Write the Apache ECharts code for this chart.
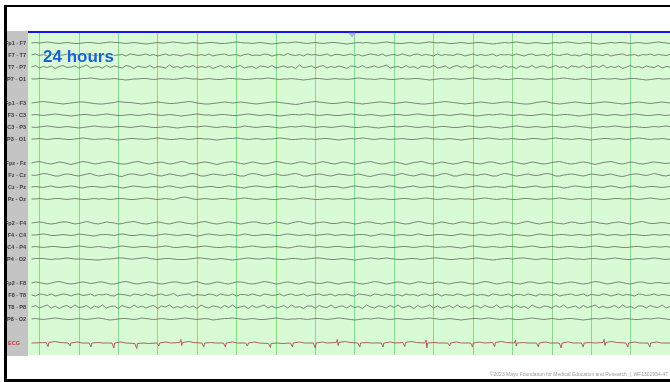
<!DOCTYPE html>
<html><head><meta charset="utf-8">
<script src="https://cdn.jsdelivr.net/npm/echarts@6/dist/echarts.min.js"></script>
<style>html,body{margin:0;padding:0;background:#fff;overflow:hidden}#c{width:670px;height:382px}</style>
</head><body><div id="c"></div>
<script>
// channel labels, one per vertical slot ('' = gap between montage groups)
const channelLabels = ['Fp1 - F7','F7 - T7','T7 - P7','P7 - O1','',
  'Fp1 - F3','F3 - C3','C3 - P3','P3 - O1','',
  'Fpz - Fz','Fz - Cz','Cz - Pz','Pz - Oz','',
  'Fp2 - F4','F4 - C4','C4 - P4','P4 - O2','',
  'Fp2 - F8','F8 - T8','T8 - P8','P8 - O2','',
  'ECG'];
// time (s) of first sample and sample step for the EEG traces
const sampleStart = 0.8, sampleStep = 0.1;
// EEG deflections, estimated, in half-pixel units (positive = upward)
const fp1f7 = [0,1,0,1,2,1,0,-1,0,1,0,-1,-1,0,1,1,0,-1,0,1, 2,1,1,0,-1,0,1,0,-1,-2,-1,0,1,0,0,1,2,1,0,-1, 0,1,0,-1,0,1,1,0,-1,-1,0,1,2,1,0,0,-1,0,1,0, -1,-2,-1,0,1,0,1,2,1,0,-1,0,1,0,-1,0,1,1,0,-1, -2,-1,0,1,0,1,0,-1,0,1,2,1,0,-1,-1,0,1,0,-1,0, 1,2,1,0,1,0,-1,-1,0,1,0,-1,0,1,1,0,-1,-2,-1,0, 1,0,1,2,1,0,-1,0,1,0,-1,-1,0,1,0,1,2,1,0,-1, 0,1,0,-1,-2,-1,0,1,0,1,1,0,-1,0,1,0,-1,0,1,2, 1,0,-1,0];
const f7t7 = [0,2,-1,1,-2,1,2,-1,0,2,-2,1,0,-1,2,1,-2,0,1,-1, 2,-1,0,1,-2,2,1,-1,0,2,-1,1,-2,0,2,-1,1,0,-2,1, 2,0,-1,1,-1,2,-2,0,1,2,-1,0,1,-2,1,2,-1,0,-1,2, 1,-2,0,1,-1,3,0,-1,1,-2,2,0,1,-1,0,2,-2,1,1,-1, 0,2,-1,1,-2,0,2,1,-1,2,-2,0,1,-1,2,0,-2,1,2,-1, 1,0,-2,2,-1,1,0,-1,2,1,-2,0,2,-1,1,-1,0,2,-2,1, 0,1,-1,2,0,-2,1,2,-1,0,1,-2,2,0,-1,1,2,-1,0,-2, 1,2,-1,1,0,-1,2,-2,0,1,2,-1,0,1,-2,1,0,2,-1,1, 0,-1,1,0];
const t7p7 = [0,3,-2,1,-1,2,-3,1,3,-1,0,2,-2,1,4,-2,0,1,-2,3, -1,2,0,-2,3,1,-3,2,0,-1,3,-2,1,0,-2,4,-1,1,-2,2, 0,3,-2,1,-1,2,-3,0,3,-1,2,-2,1,3,-2,0,1,-3,2,1, -1,3,-2,0,2,-1,1,-3,4,-1,0,2,-2,1,3,-2,1,-1,2,0, -3,2,1,-1,3,-2,0,2,-1,1,4,-2,0,1,-2,3,-1,1,-3,2, 1,-1,3,-2,0,2,-3,1,3,-1,2,-2,0,4,-1,1,-2,2,0,-2, 3,-1,1,-3,2,0,-1,3,-2,1,2,-2,0,3,-1,1,-3,2,1,-1, 3,-2,0,2,-1,4,-2,1,-1,2,-3,0,3,-1,1,-2,2,0,-1,3, -2,1,0,-1];
const p7o1 = [0,0,1,1,0,-1,0,0,1,0,-1,-1,0,1,1,2,1,0,-1,0, 0,1,0,-1,-2,-1,0,0,1,1,0,-1,0,1,0,0,-1,0,1,2, 1,0,0,-1,0,1,0,-1,-1,0,1,1,0,0,-1,-1,0,1,0,1, 2,1,0,-1,0,0,1,0,-1,-2,-1,0,1,1,0,-1,0,1,0,0, -1,0,1,2,1,0,0,-1,0,1,0,-1,-1,0,1,0,0,1,1,0, -1,-2,-1,0,1,0,0,1,0,-1,0,1,2,1,0,-1,0,0,1,0, -1,-1,0,1,1,0,0,-1,0,1,0,-1,0,0,1,2,1,0,-1,0, 1,0,-1,-1,0,1,0,0,1,0,-1,0,1,1,0,-1,-2,-1,0,1, 0,0,1,0];
const fp1f3 = [0,1,2,3,2,1,0,-1,-2,-1,0,1,2,2,1,0,-1,-2,-2,-1, 0,1,3,2,1,1,0,-1,-2,-1,0,1,2,1,0,-1,-1,0,1,2, 3,2,0,-1,-2,-2,-1,0,1,2,1,0,1,2,1,0,-1,-2,-1,0, 1,2,2,1,0,-1,-2,-3,-2,0,1,2,3,2,1,0,-1,-1,0,1, 2,1,0,-1,-2,-1,0,1,2,2,1,0,-1,0,1,2,1,0,-1,-2, -2,-1,0,1,2,3,2,1,0,-1,-2,-1,0,1,2,1,0,-1,0,1, 2,2,1,0,-1,-2,-2,-1,1,2,3,2,0,-1,-2,-1,0,1,2,1, 0,-1,-1,0,1,2,2,1,0,-1,-2,-1,0,1,2,1,0,-1,0,1, 2,1,0,-1];
const f3c3 = [0,1,0,-1,0,1,2,1,0,-1,-2,-1,0,1,1,0,-1,0,1,2, 1,0,-1,-1,0,1,0,-1,0,1,2,1,0,-1,0,1,0,-1,-2,-1, 0,1,2,1,0,0,-1,0,1,1,0,-1,-1,0,1,2,1,0,-1,0, 1,0,-1,-2,-1,0,1,1,0,1,2,1,0,-1,0,1,0,-1,-1,0, 1,2,1,0,-1,0,1,0,-1,-2,-1,0,1,1,0,-1,0,1,2,1, 0,-1,-1,0,1,0,-1,0,1,2,1,0,-1,-2,-1,0,1,0,1,2, 1,0,-1,0,1,0,-1,-1,0,1,2,1,0,-1,0,1,1,0,-1,-2, -1,0,1,2,1,0,-1,0,1,0,-1,0,1,2,1,0,-1,-1,0,1, 0,-1,0,1];
const c3p3 = [0,-1,0,1,2,1,0,-1,0,1,0,-1,-2,-1,0,1,2,1,0,0, -1,0,1,1,0,-1,0,1,2,1,0,-1,-1,0,1,0,-1,-2,-1,0, 1,1,0,1,2,1,0,-1,0,1,0,-1,-1,0,2,1,0,-1,0,1, 1,0,-1,-2,-1,0,1,0,1,2,1,0,-1,0,1,0,-1,0,1,2, 1,0,-1,-1,0,1,0,-1,-2,-1,0,1,1,0,1,2,1,0,-1,0, 1,0,-1,0,1,1,0,-1,-1,0,1,2,1,0,-1,0,1,0,-1,-2, -1,0,1,2,1,0,-1,0,1,0,-1,0,1,1,0,-1,0,1,2,1, 0,-1,-2,-1,0,1,0,1,2,1,0,-1,0,1,0,-1,-1,0,1,0, 1,2,1,0];
const p3o1 = [0,0,1,0,-1,0,1,1,0,-1,-1,0,1,2,1,0,-1,0,0,1, 0,-1,-2,-1,0,1,1,0,0,-1,0,1,2,1,0,-1,-1,0,1,0, -1,0,1,1,0,0,-1,-2,-1,0,1,1,2,1,0,-1,0,1,0,-1, 0,0,1,2,1,0,-1,-1,0,1,0,0,-1,0,1,1,0,-1,-2,-1, 0,1,0,1,2,1,0,-1,0,1,0,-1,0,0,1,0,-1,-1,0,1, 2,1,0,0,-1,0,1,0,-1,-2,-1,0,1,1,0,1,2,1,0,-1, 0,0,1,0,-1,-1,0,1,1,0,-1,0,1,2,1,0,0,-1,0,1, 0,-1,-2,-1,0,1,1,0,0,1,0,-1,0,1,2,1,0,-1,0,0, 1,0,-1,0];
const fpzfz = [0,2,3,1,-1,-2,0,2,1,-1,-3,-1,1,3,2,0,-2,-1,1,2, 3,1,-1,-2,-2,0,2,3,1,-1,-2,0,1,2,0,-2,-1,1,3,2, -1,-2,-1,1,2,1,-1,-3,-1,1,2,3,1,-1,-2,0,2,1,-1,-2, -1,1,3,2,0,-1,-2,0,2,2,0,-2,-1,1,3,1,-1,-2,0,2, 1,-1,-2,-1,1,2,3,1,-1,-2,-1,1,2,1,-1,-3,-1,1,2,3, 1,-1,-2,0,2,1,-1,-2,-1,1,3,2,0,-1,-2,0,2,2,0,-2, -1,1,3,1,-1,-2,0,2,1,-1,-2,-1,1,2,3,1,-1,-2,-1,1, 2,1,-1,-3,-1,1,2,3,1,-1,-2,0,2,1,-1,-2,-1,1,2,1, 0,-1,0,1];
const fzcz = [0,-1,1,3,2,0,-2,-2,1,2,1,-1,-2,0,2,3,0,-2,-1,1, 2,1,-2,-3,0,2,2,0,-1,1,3,1,-1,-2,0,2,1,-1,-2,-1, 2,3,1,-2,-2,0,2,1,0,-1,1,2,0,-2,-2,1,3,2,0,-2, -1,1,2,0,-1,0,2,3,1,-2,-2,0,1,2,1,-1,-2,0,2,1, 0,-1,1,2,0,-2,-3,-1,1,2,2,0,-1,1,3,1,-1,-2,0,2, 1,-1,-2,-1,2,3,1,-2,-2,0,2,1,0,-1,1,2,0,-2,-2,1, 3,2,0,-2,-1,1,2,0,-1,0,2,3,1,-2,-2,0,1,2,1,-1, -2,0,2,1,0,-1,1,2,0,-2,-3,-1,1,2,2,0,-1,1,3,1, -1,-2,0,2];
const czpz = [0,1,0,-1,1,2,0,-1,0,1,2,1,-1,-2,0,1,1,0,-1,0, 2,1,0,-2,-1,1,2,1,0,-1,0,1,0,-1,1,2,1,-1,-2,0, 1,2,0,-1,0,1,1,-1,-1,1,2,1,0,-1,-2,0,1,2,1,0, -1,0,1,0,-1,1,2,1,-1,-1,0,1,2,0,-1,0,1,1,0,-2, -1,1,2,1,0,-1,0,1,0,-1,1,2,1,-1,-2,0,1,2,0,-1, 0,1,1,-1,-1,1,2,1,0,-1,-2,0,1,2,1,0,-1,0,1,0, -1,1,2,1,-1,-1,0,1,2,0,-1,0,1,1,0,-2,-1,1,2,1, 0,-1,0,1,0,-1,1,2,1,-1,-2,0,1,2,0,-1,0,1,1,0, -1,0,1,0];
const pzoz = [0,0,1,0,-1,0,1,1,0,-1,0,1,0,-1,-1,0,1,0,1,0, -1,0,1,1,0,-1,-1,0,1,2,1,0,-1,0,1,0,-1,1,3,4, 2,0,-1,0,1,0,-1,0,1,1,0,-1,0,1,2,1,0,-1,0,1, 0,-1,-1,0,1,0,-1,0,1,2,1,0,-1,-1,0,1,0,0,1,0, -1,0,1,2,1,0,-1,0,0,1,0,-1,-1,0,1,1,0,-1,0,1, 2,1,0,-1,0,1,0,-1,0,1,0,0,-1,0,1,2,1,0,-1,0, 1,0,-1,-1,0,1,1,0,-1,0,1,0,0,1,2,1,0,-1,0,1, 0,-1,0,1,0,-1,-1,0,1,1,0,0,1,0,-1,0,1,2,1,0, -1,0,1,0];
const fp2f4 = [0,1,2,1,-1,-2,-1,1,2,2,0,-2,-1,1,3,1,-1,-2,0,2, 1,0,-2,-1,1,2,3,1,-1,-2,-1,1,2,1,-1,-2,0,2,2,0, -1,-2,0,2,3,1,-1,-2,-1,1,2,1,0,-2,-1,1,2,2,0,-1, -2,0,2,1,-1,-2,0,2,3,1,-1,-2,0,1,2,1,-1,-1,0,2, 1,0,-2,-1,1,2,2,0,-1,-2,0,1,2,1,-1,-2,-1,1,3,2, 0,-1,-2,0,2,1,-1,-2,0,2,2,0,-1,0,2,1,-1,-2,-1,1, 2,1,-1,-2,0,2,3,1,-1,-2,0,1,2,0,-1,-2,0,2,1,-1, -1,1,2,2,0,-1,-2,0,1,2,1,-1,-2,0,2,3,1,-1,-1,0, 1,0,-1,0];
const f4c4 = [0,0,1,2,1,-1,-1,0,1,0,-1,0,2,1,0,-1,-2,0,1,1, 0,-1,1,2,1,-1,-1,0,1,0,-1,-2,0,1,2,1,0,-1,0,1, 1,-1,-2,-1,1,2,1,0,-1,0,1,0,-1,0,2,1,-1,-1,0,1, 1,0,-1,-1,1,2,1,0,-1,0,1,0,-1,0,1,2,1,-1,0,1, 0,-1,0,1,1,0,-2,-1,1,2,1,0,-1,0,1,0,-1,0,2,1, -1,-1,0,1,1,0,-1,-1,1,2,1,0,-1,0,1,0,-1,0,1,2, 1,-1,0,1,0,-1,-2,-1,1,2,1,0,-1,0,1,1,0,-1,0,1, 0,-1,0,1,2,1,-1,0,1,0,-1,0,1,1,0,-1,-1,0,1,0, 0,1,0,-1];
const c4p4 = [0,1,0,-1,0,1,1,0,-1,-1,0,1,2,1,0,-1,0,1,0,-1, -2,-1,1,2,1,0,-1,0,1,1,0,-1,0,1,2,1,-1,-1,0,1, 0,-1,0,1,2,1,0,-1,-1,0,1,0,0,-1,0,1,2,1,0,-1, 0,0,1,0,-1,-2,-1,1,2,1,0,-1,0,1,0,-1,0,1,1,0, -1,-1,0,1,2,1,0,-1,0,1,0,-1,-1,0,1,1,0,-1,0,1, 2,1,0,-1,0,0,1,0,-1,-2,-1,1,2,1,0,-1,0,1,0,-1, 0,1,1,0,-1,0,1,2,1,-1,-1,0,1,0,-1,0,1,1,0,-1, -1,0,1,2,1,0,-1,0,1,0,-1,-1,0,1,1,0,-1,0,1,0, 0,1,0,0];
const p4o2 = [0,1,1,1,0,-1,0,0,1,2,1,0,0,0,-1,-1,-2,-2,-1,0, 0,1,2,2,1,0,0,1,2,3,1,0,-1,0,1,1,0,-1,-1,-1, 0,1,2,2,1,0,-1,0,1,0,-1,-2,-1,0,1,2,1,0,0,1, 2,1,0,-1,-1,0,1,1,0,-1,0,1,2,2,1,0,-1,-1,0,1, 0,-1,-2,-1,0,1,2,1,0,1,2,1,0,-1,-1,0,1,1,0,-1, 0,1,2,2,1,0,-1,-1,0,1,0,0,1,2,1,0,-1,-2,-1,0, 1,1,0,1,2,2,1,0,-1,0,1,0,-1,-1,0,1,2,1,0,0, -1,0,1,1,0,-1,0,1,2,1,0,-1,-1,0,1,0,0,1,2,1, 0,-1,0,0];
const fp2f8 = [0,2,1,-1,-2,0,2,3,1,-1,-2,-1,1,2,1,-1,0,2,2,0, -2,-2,0,2,3,1,-1,-2,0,1,2,1,-1,-2,-1,1,2,2,0,-1, 0,2,3,0,-2,-2,0,2,1,-1,-2,0,2,2,1,-1,-2,-1,1,3, 2,0,-2,-1,1,2,1,-1,-2,0,2,2,0,-1,0,2,1,-1,-2,0, 1,2,1,-1,-2,-1,1,3,2,0,-2,-1,1,2,1,-1,-2,0,2,2, 0,-1,0,2,1,-1,-2,0,1,2,1,-1,-2,-1,1,3,2,0,-2,-1, 1,2,1,-1,-2,0,2,2,0,-1,0,2,1,-1,-2,0,1,2,1,-1, -2,-1,1,3,2,0,-2,-1,1,2,1,-1,-2,0,2,2,0,-1,0,1, 0,-1,0,1];
const f8t8 = [0,-2,2,1,-1,2,-2,0,2,1,-2,1,2,-1,0,2,-2,1,0,2, -1,-2,2,1,0,-2,2,1,-1,2,0,-2,1,2,-1,0,3,-2,0,1, 2,-2,1,0,-1,2,1,-2,2,0,-1,2,-2,1,1,-1,2,0,-2,2, 1,-1,0,2,-2,1,2,-1,0,2,-2,0,1,2,-1,0,2,-2,1,0, 2,-1,-2,2,1,0,-2,2,1,-1,2,0,-1,1,-2,2,0,1,-2,1, 2,-1,0,2,-2,1,0,-1,2,1,-2,0,2,-1,1,0,-2,2,1,-1, 0,2,-2,1,1,-1,2,0,-2,2,0,1,-1,2,-2,0,1,2,-1,0, 2,-2,1,0,-1,2,1,-2,0,2,-1,1,0,-2,2,1,-1,0,2,-1, 1,0,-1,0];
const t8p8 = [0,3,-2,1,4,-2,2,-3,1,3,-2,4,-1,0,3,-3,2,-1,4,-2, 1,2,-3,3,0,-2,4,-1,2,-2,1,3,-3,2,0,4,-2,1,-2,3, -1,2,-3,4,0,-2,2,1,-2,3,-1,4,-2,0,2,-3,3,-1,1,4, -2,2,-2,0,3,-2,4,-1,1,-3,2,2,-2,3,0,-1,4,-2,1,2, -2,3,-1,1,-3,4,0,-2,2,1,-2,3,-1,4,-2,0,2,-3,3,-1, 1,4,-2,2,-2,0,3,-2,4,-1,1,-3,2,2,-2,3,0,-1,4,-2, 1,2,-2,3,-1,1,-3,4,0,-2,2,1,-2,3,-1,4,-2,0,2,-3, 3,-1,1,4,-2,2,-2,0,3,-2,4,-1,1,-3,2,2,-2,3,0,-1, 4,-2,1,0];
const p8o2 = [0,1,0,-1,0,1,2,1,0,-1,-1,0,1,0,-1,0,1,2,1,-1, -2,-1,0,1,1,0,-1,0,2,1,0,-1,0,1,0,-1,-1,0,1,2, 1,0,-1,0,1,0,-2,-1,0,1,1,2,1,0,-1,0,1,0,-1,-1, 0,1,2,1,0,-1,0,0,1,0,-1,0,1,1,0,-1,0,1,2,1, 0,-1,-2,-1,0,1,0,1,2,1,0,-1,0,1,0,-1,-1,0,1,0, 1,2,1,0,-1,0,1,0,-1,-2,-1,0,1,1,0,1,2,1,0,-1, 0,1,0,-1,-1,0,1,2,1,0,-1,0,1,0,-1,0,1,1,0,-1, -2,-1,0,1,0,1,2,1,0,-1,0,1,0,-1,-1,0,1,0,1,2, 1,0,-1,0];
// ECG: beat times (s), R up / S down amplitudes (px), T-wave bump (px), baseline per beat (px)
const ecgBeatTimes = [1.20,1.76,2.29,2.87,3.45,4.01,4.59,5.15,5.70,6.26,6.84,7.40,7.98,8.56,9.11,9.70,10.25,10.81,11.39,11.97,12.53,13.08,13.64,14.22,14.78,15.33,15.91,16.47];
const ecgUp   = [1.5,2,2,1,1,2,3,2,2,2,2,2,2,3,2,2,2,3,2,2,2,3,2,2,2,3,2,2];
const ecgDown = [4,3,4,5,5,3,3,4,4,3,4,4,5,3,4,4,4,5,3,4,4,3,4,5,4,3,4,4];
const ecgT    = [1,1,0.5,1,0.5,1,1,0.5,1,1,0.5,1,1,1,0.5,1,1,0.5,1,1,1,0.5,1,1,0.5,1,1,1];
const ecgBase = [0.5,0,0,0,-0.5,0,0.5,0,0,0,-0.5,0,0,0.5,0,0,0.5,0,0,0,0.5,0,0,0,0,0.5,0,0];

const eegSeries = [fp1f7,f7t7,t7p7,p7o1,null,fp1f3,f3c3,c3p3,p3o1,null,fpzfz,fzcz,czpz,pzoz,null,fp2f4,f4c4,c4p4,p4o2,null,fp2f8,f8t8,t8p8,p8o2];
const pxPerUnit = 12;     // one channel slot = 12 px
const halfPx = 2 * pxPerUnit;
const series = [];
eegSeries.forEach((arr, k) => {
  if (!arr) return;
  const base = k + 1;
  series.push({
    type: 'line', showSymbol: false, silent: true, animation: false, z: 3,
    lineStyle: {color: '#5c5c5c', width: 0.75},
    data: arr.map((v, i) => [sampleStart + i * sampleStep, base - v / halfPx])
  });
});
(function(){
  const base = 26;
  const d = [[0.8, base]];
  ecgBeatTimes.forEach((t, i) => {
    const b = ecgBase[i];
    d.push([t - 0.03, base - b / pxPerUnit]);
    d.push([t, base - (b + ecgUp[i]) / pxPerUnit]);
    d.push([t + 0.02, base - (b - ecgDown[i]) / pxPerUnit]);
    d.push([t + 0.04, base - b / pxPerUnit]);
    d.push([t + 0.2, base - (b + ecgT[i]) / pxPerUnit]);
    d.push([t + 0.32, base - b / pxPerUnit]);
  });
  d.push([17, base]);
  series.push({type: 'line', showSymbol: false, silent: true, animation: false, z: 3,
    lineStyle: {color: '#a4524c', width: 0.9}, data: d});
})();

const chart = echarts.init(document.getElementById('c'), null, {renderer: 'canvas'});
chart.setOption({
  backgroundColor: '#ffffff',
  animation: false,
  grid: {left: -2.6, right: 0, top: 31, bottom: 27, show: true, backgroundColor: '#d8fad5', borderWidth: 0},
  xAxis: {type: 'value', position: 'top', min: 0, max: 17, interval: 1, offset: -1,
    axisLine: {show: true, lineStyle: {color: '#1414f0', width: 2}},
    axisTick: {show: false}, axisLabel: {show: false},
    splitLine: {show: true, lineStyle: {color: '#8ad88a', width: 1}}},
  yAxis: {type: 'value', inverse: true, min: 0, max: 27, interval: 1, offset: -26, z: 5,
    axisLine: {show: false}, axisTick: {show: false}, splitLine: {show: false},
    axisLabel: {margin: 0, fontSize: 5.5, fontWeight: 'bold', color: '#3a3a3a', fontFamily: 'Liberation Sans, Arial',
      formatter: v => { const n = channelLabels[Math.round(v) - 1] || ''; return n === 'ECG' ? '{e|ECG}' : n; },
      rich: {e: {color: '#c03a30', fontSize: 5.5, padding: [0, 6, 0, 0], fontFamily: 'Liberation Sans, Arial'}}}},
  graphic: [
    {type: 'rect', z: 1, shape: {x: 7, y: 31, width: 21, height: 325}, style: {fill: '#c4c4c4'}},
    {type: 'polygon', z: 10, shape: {points: [[349, 33], [355, 33], [352, 37]]}, style: {fill: '#b4b4f4', stroke: '#8c8ce0', lineWidth: 0.5}},
    {type: 'text', z: 10, x: 43, y: 57, style: {text: '24 hours', fill: '#1a62c6', font: 'bold 17px "Liberation Sans", Arial', textVerticalAlign: 'middle', stroke: '#eaffea', lineWidth: 0.8}},
    {type: 'text', z: 10, x: 668, y: 375, style: {text: '\u00a92023 Mayo Foundation for Medical Education and Research  |  WF1302954-47', fill: '#9a9a9a', font: '5px "Liberation Sans", Arial', textAlign: 'right', textVerticalAlign: 'middle'}},
    {type: 'rect', z: 20, shape: {x: 0, y: 0, width: 4, height: 382}, style: {fill: '#ffffff'}},
    {type: 'rect', z: 21, shape: {x: 4, y: 5, width: 3, height: 377}, style: {fill: '#000000'}},
    {type: 'rect', z: 21, shape: {x: 4, y: 5, width: 666, height: 2}, style: {fill: '#000000'}},
    {type: 'rect', z: 21, shape: {x: 4, y: 379, width: 666, height: 3}, style: {fill: '#000000'}}
  ],
  series: series
});
</script></body></html>
